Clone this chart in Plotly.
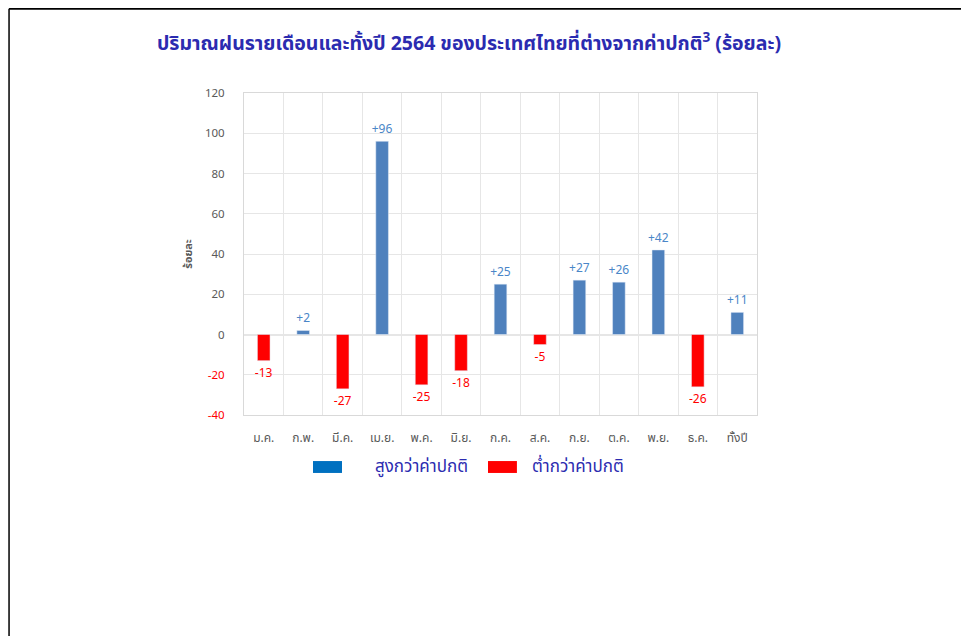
import plotly.graph_objects as go

meses = ['ม.ค.', 'ก.พ.', 'มี.ค.', 'เม.ย.', 'พ.ค.', 'มิ.ย.', 'ก.ค.', 'ส.ค.',
         'ก.ย.', 'ต.ค.', 'พ.ย.', 'ธ.ค.', 'ทั้งปี']
valores = [-13, 2, -27, 96, -25, -18, 25, -5, 27, 26, 42, -26, 11]
y_ticks = [-40, -20, 0, 20, 40, 60, 80, 100, 120]

titulo = '<b>ปริมาณฝนรายเดือนและทั้งปี 2564 ของประเทศไทยที่ต่างจากค่าปกติ<sup>3</sup> (ร้อยละ)</b>'
nome_acima = 'สูงกว่าค่าปกติ'
nome_abaixo = 'ต่ำกว่าค่าปกติ'

FONTE = 'Tahoma, Noto Sans Thai, Noto Sans, sans-serif'
AZUL_BARRA = '#4F81BD'
AZUL_ROTULO = '#4A86C8'
VERMELHO = '#FF0000'
AZUL_TEXTO = '#2B2BB0'

# cores e rótulos conforme o sinal (acima/abaixo do normal)
cores_barras = [AZUL_BARRA if v >= 0 else VERMELHO for v in valores]
cores_rotulos = [AZUL_ROTULO if v >= 0 else VERMELHO for v in valores]
rotulos = [f'{v:+d}' if v > 0 else f'{v:d}' for v in valores]

fig = go.Figure()
fig.add_trace(go.Bar(x=meses, y=valores, marker_color=cores_barras, width=0.32,
                     text=rotulos, textposition='outside', cliponaxis=False,
                     constraintext='none',
                     textfont=dict(color=cores_rotulos, size=12, family=FONTE),
                     showlegend=False))

tick_txt = [f'<span style="color:{VERMELHO}">{t}</span>' if t < 0 else str(t) for t in y_ticks]

fig.update_layout(
    width=961, height=628,
    margin=dict(l=236, r=212, t=85, b=221),
    plot_bgcolor='white', paper_bgcolor='white',
    showlegend=False,
    font=dict(family=FONTE, color='#595959'),
    title=dict(text=titulo, xref='paper', x=0.4386, xanchor='center', y=0.944, yanchor='middle',
               font=dict(size=19.5, color=AZUL_TEXTO, family=FONTE)),
    xaxis=dict(type='category', tickson='boundaries', showgrid=True, gridcolor='#E6E6E6',
               showline=True, mirror=True, linecolor='#D9D9D9',
               ticks='', ticklabelstandoff=12,
               tickfont=dict(size=12, color='#595959')),
    yaxis=dict(range=[-40, 120], tickvals=y_ticks, ticktext=tick_txt,
               showgrid=True, gridcolor='#E6E6E6', zeroline=True, zerolinecolor='#E6E6E6',
               showline=True, mirror=True, linecolor='#D9D9D9',
               ticks='outside', ticklen=16, tickcolor='rgba(0,0,0,0)',
               tickfont=dict(size=11.5, color='#595959'),
               title=dict(text='<b>ร้อยละ</b>', standoff=10,
                          font=dict(size=11, color='#595959'))),
)

# legenda desenhada como no original (retângulos largos)
for x0, x1, cor, xt, nome in [(0.1345, 0.191, '#0070C0', 0.2515, nome_acima),
                              (0.4756, 0.532, VERMELHO, 0.5575, nome_abaixo)]:
    fig.add_shape(type='rect', xref='paper', yref='paper', x0=x0, x1=x1,
                  y0=-0.180, y1=-0.143, fillcolor=cor, line=dict(width=0))
    fig.add_annotation(text=nome, xref='paper', yref='paper', x=xt, y=-0.1615,
                       xanchor='left', yanchor='middle', showarrow=False,
                       font=dict(size=17, color=AZUL_TEXTO, family=FONTE))

# moldura da página
fig.add_shape(type='line', xref='paper', yref='paper', x0=-0.458, x1=1.42,
              y0=1.262, y1=1.262, line=dict(color='black', width=2))
fig.add_shape(type='line', xref='paper', yref='paper', x0=-0.458, x1=-0.458,
              y0=1.262, y1=-0.7, line=dict(color='black', width=1.5))

fig.write_html('out.html')
